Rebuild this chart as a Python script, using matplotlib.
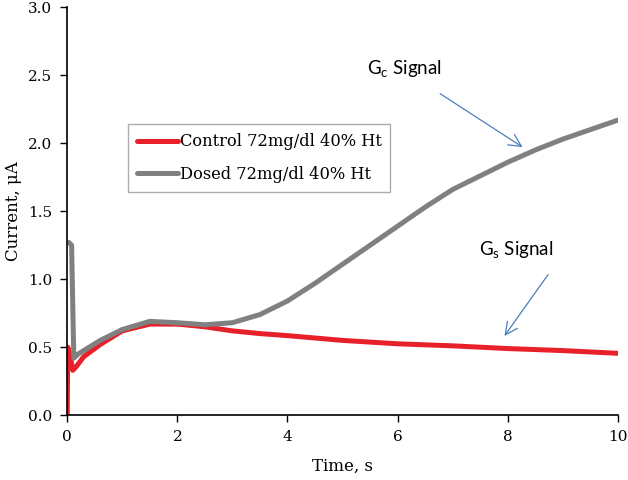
import matplotlib
matplotlib.use("Agg")
import matplotlib.pyplot as plt

# Control (red)
t_control = [0.0, 0.01, 0.05, 0.10, 0.15, 0.3, 0.6, 1.0, 1.5, 2.0, 2.5, 3.0, 3.5, 4.0,
             5.0, 6.0, 7.0, 8.0, 9.0, 10.0]
i_control = [0.0, 0.50, 0.45, 0.33, 0.35, 0.43, 0.52, 0.62, 0.67, 0.67, 0.65, 0.62, 0.60,
             0.585, 0.55, 0.525, 0.51, 0.49, 0.475, 0.455]

# Dosed (gray)
t_dosed = [0.03, 0.08, 0.12, 0.2, 0.4, 0.6, 1.0, 1.5, 2.0, 2.5, 3.0, 3.5, 4.0, 4.5,
           5.0, 5.5, 6.0, 6.5, 7.0, 7.5, 8.0, 8.5, 9.0, 9.5, 10.0]
i_dosed = [1.27, 1.25, 0.42, 0.45, 0.50, 0.55, 0.63, 0.69, 0.68, 0.665, 0.68, 0.74, 0.84,
           0.97, 1.11, 1.25, 1.39, 1.53, 1.66, 1.76, 1.86, 1.95, 2.03, 2.10, 2.17]

x_ticks = [0, 2, 4, 6, 8, 10]
y_ticks = [0.0, 0.5, 1.0, 1.5, 2.0, 2.5, 3.0]

serif = ["DejaVu Serif"]
sans = ["Lato", "DejaVu Sans"]

fig = plt.figure(figsize=(6.28, 4.8), dpi=100)
ax = fig.add_axes([0.107, 0.135, 0.877, 0.85])

ax.plot(t_control, i_control, color="#e8202a", lw=3.6, label="Control 72mg/dl 40% Ht",
        solid_capstyle="round")
ax.plot(t_dosed, i_dosed, color="#808080", lw=3.6, label="Dosed 72mg/dl 40% Ht",
        solid_capstyle="round")

ax.set_xlim(0, 10)
ax.set_ylim(0, 3.0)
ax.set_xticks(x_ticks)
ax.set_xticklabels([str(v) for v in x_ticks], fontfamily=serif, fontsize=11)
ax.set_yticks(y_ticks)
ax.set_yticklabels([f"{v:.1f}" for v in y_ticks], fontfamily=serif, fontsize=11)
ax.tick_params(direction="out", length=5, width=1, colors="black", pad=6)
for s in ["top", "right"]:
    ax.spines[s].set_visible(False)
for s in ["left", "bottom"]:
    ax.spines[s].set_linewidth(1.2)

ax.set_xlabel("Time, s", fontfamily=serif, fontsize=12)
ax.xaxis.set_label_coords(0.5, -0.105)
ax.set_ylabel("Current, μA", fontfamily=serif, fontsize=12)
ax.yaxis.set_label_coords(-0.082, 0.5)

leg = ax.legend(loc="upper left", bbox_to_anchor=(0.111, 0.713), prop={"family": serif, "size": 11.7},
                frameon=True, fancybox=False, handlelength=2.5, handletextpad=0.1,
                borderpad=0.55, labelspacing=0.95, borderaxespad=0)
leg.get_frame().set_edgecolor("#999999")
leg.get_frame().set_linewidth(1.0)

arrow_color = "#4a7ebb"
ax.annotate("", xy=(8.31, 1.96), xytext=(6.73, 2.375),
            arrowprops=dict(arrowstyle="->", color=arrow_color, lw=0.9,
                            mutation_scale=22))
ax.text(6.13, 2.54, r"G$_\mathregular{c}$ Signal", fontfamily=sans, fontsize=13.5,
        ha="center", va="center")
ax.annotate("", xy=(7.91, 0.566), xytext=(8.76, 1.05),
            arrowprops=dict(arrowstyle="->", color=arrow_color, lw=0.9,
                            mutation_scale=22))
ax.text(8.15, 1.21, r"G$_\mathregular{s}$ Signal", fontfamily=sans, fontsize=13.5,
        ha="center", va="center")

fig.savefig("out.png", dpi=100)
